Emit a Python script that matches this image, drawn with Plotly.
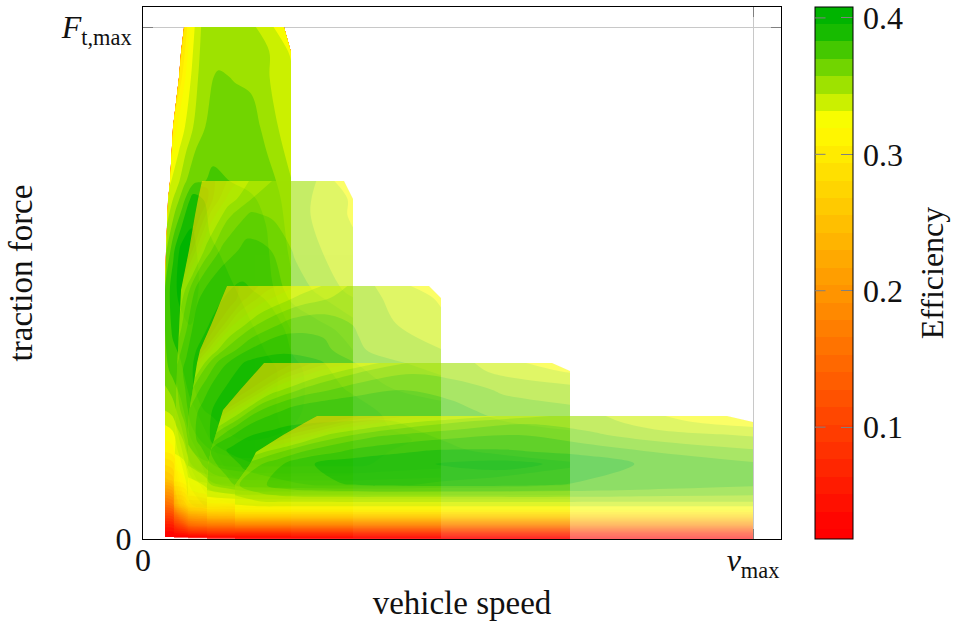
import plotly.graph_objects as go

# Speed and force are in normalised chart units (v_max = 610, F_t,max = 512)
V_MAX = 610
F_MAX = 512
AXIS_X_END = 638
AXIS_Y_END = 532

EFF_MIN = 0.018
EFF_MAX = 0.408
LEVEL_START = 0.0253
LEVEL_END = 0.4084
LEVEL_STEP = 0.01277
EFF_TICKS = [0.1, 0.2, 0.3, 0.4]
EFF_LABELS = ["0.1", "0.2", "0.3", "0.4"]

a_gear1 = [0, .06, .12, .2, .35, .5, .65, .8, 1]
a_other = [0, .05, .1, .2, .35, .5, .65, .8, 1]

# gear 1
g1_force = [2, 14, 34, 59, 89, 129, 169, 209, 249, 289, 339, 358, 412, 462, 487, 512]
g1_left = [22, 22, 22, 22, 22, 22, 22, 22, 22, 23, 25, 27, 30, 36, 38, 41]
g1_right = [148] * 15 + [141]
g1_eff = [
    [.02] * 9,
    [.06, .06, .12, .2, .24, .26, .26, .25, .24],
    [.15, .16, .27, .33, .35, .355, .36, .36, .35],
    [.25, .26, .31, .35, .37, .38, .385, .38, .37],
    [.31, .315, .34, .365, .38, .39, .395, .39, .38],
    [.345, .35, .365, .38, .39, .395, .39, .385, .38],
    [.365, .375, .38, .39, .395, .395, .39, .385, .38],
    [.37, .385, .39, .395, .39, .39, .385, .38, .37],
    [.37, .39, .40, .40, .39, .385, .38, .375, .36],
    [.355, .38, .40, .40, .385, .38, .378, .372, .355],
    [.335, .35, .365, .39, .378, .375, .372, .368, .35],
    [.33, .34, .355, .367, .372, .37, .368, .365, .345],
    [.31, .325, .335, .35, .365, .368, .368, .35, .338],
    [.295, .32, .335, .35, .36, .356, .352, .345, .335],
    [.29, .318, .335, .35, .35, .35, .35, .345, .33],
    [.29, .32, .335, .35, .35, .35, .35, .338, .325],
]

# gear 2
g2_force = [1, 14, 34, 59, 89, 129, 169, 209, 249, 289, 324, 340, 358]
g2_left = [31, 31, 31, 31, 32, 33, 34, 36, 38, 46, 52, 55, 59]
g2_right = [210] * 12 + [201]
g2_eff = [
    [.02] * 9,
    [.10, .10, .13, .15, .15, .15, .15, .15, .15],
    [.24, .24, .27, .28, .28, .28, .28, .28, .28],
    [.31, .315, .33, .34, .34, .34, .34, .34, .34],
    [.335, .34, .36, .37, .38, .38, .38, .375, .37],
    [.35, .365, .38, .385, .39, .39, .385, .38, .375],
    [.36, .375, .385, .385, .39, .39, .385, .38, .375],
    [.34, .36, .38, .385, .39, .39, .38, .375, .365],
    [.32, .345, .365, .38, .385, .38, .365, .355, .34],
    [.28, .31, .335, .36, .375, .37, .355, .345, .335],
    [.27, .285, .31, .34, .36, .355, .35, .34, .33],
    [.27, .275, .295, .325, .345, .35, .35, .34, .33],
    [.285, .285, .295, .31, .335, .345, .35, .345, .325],
]

# gear 3
g3_force = [0.5, 14, 29, 46, 74, 99, 126, 151, 176, 189, 214, 241, 253]
g3_left = [45, 45, 45, 45, 45, 45, 46, 50, 54, 57, 68, 79, 84]
g3_right = [298] * 12 + [286]
g3_eff = [
    [.02] * 9,
    [.15] * 9,
    [.26, .26, .27, .27, .27, .27, .27, .27, .27],
    [.315, .32, .33, .335, .335, .335, .335, .335, .335],
    [.345, .355, .37, .38, .385, .385, .385, .38, .375],
    [.36, .375, .385, .39, .395, .395, .39, .385, .38],
    [.36, .375, .385, .39, .395, .395, .39, .38, .375],
    [.345, .365, .38, .39, .395, .39, .38, .37, .365],
    [.31, .345, .365, .385, .39, .385, .37, .36, .35],
    [.28, .32, .345, .37, .38, .375, .36, .35, .345],
    [.27, .29, .32, .345, .365, .365, .355, .345, .335],
    [.27, .275, .29, .315, .335, .345, .35, .34, .33],
    [.28, .28, .285, .30, .32, .335, .35, .34, .325],
]

# gear 4
g4_force = [0, 6, 14, 22, 29, 36, 44, 54, 74, 89, 109, 129, 149, 168, 176]
g4_left = [64, 64, 64, 64, 64, 64, 64, 64, 65, 68, 74, 80, 97, 114, 121]
g4_right = [427] * 14 + [409]
g4_eff = [
    [.02] * 9,
    [.09] * 9,
    [.17] * 9,
    [.25] * 9,
    [.29] * 9,
    [.32] * 9,
    [.335, .34, .345, .345, .345, .345, .345, .345, .345],
    [.355, .365, .375, .38, .385, .385, .38, .378, .37],
    [.365, .375, .385, .39, .395, .395, .395, .39, .385],
    [.37, .385, .39, .39, .39, .39, .385, .38, .375],
    [.34, .365, .38, .385, .385, .385, .38, .375, .37],
    [.29, .325, .355, .375, .38, .38, .375, .365, .36],
    [.27, .29, .325, .35, .365, .37, .365, .355, .35],
    [.27, .275, .29, .32, .345, .355, .35, .34, .33],
    [.27, .27, .28, .30, .325, .345, .35, .34, .325],
]

# gear 5
g5_force = [0, 6, 14, 22, 29, 36, 44, 54, 75, 87, 104, 117, 123]
g5_left = [92, 92, 92, 92, 92, 92, 92, 92, 107, 113, 140, 163, 174]
g5_right = [610] * 12 + [584]
g5_eff = [
    [.02] * 9,
    [.08] * 9,
    [.19] * 9,
    [.27] * 9,
    [.32] * 9,
    [.335, .342, .342, .342, .342, .342, .342, .342, .342],
    [.345, .355, .36, .362, .362, .362, .362, .36, .358],
    [.355, .368, .377, .382, .385, .385, .382, .378, .372],
    [.35, .365, .38, .39, .395, .40, .392, .38, .372],
    [.325, .345, .36, .375, .385, .385, .38, .37, .36],
    [.29, .31, .335, .355, .365, .37, .36, .35, .343],
    [.27, .28, .30, .325, .345, .355, .35, .335, .325],
    [.27, .27, .28, .30, .32, .34, .35, .335, .322],
]

gears = [
    (a_gear1, g1_force, g1_left, g1_right, g1_eff, 1.0),
    (a_other, g2_force, g2_left, g2_right, g2_eff, 0.6),
    (a_other, g3_force, g3_left, g3_right, g3_eff, 0.6),
    (a_other, g4_force, g4_left, g4_right, g4_eff, 0.6),
    (a_other, g5_force, g5_left, g5_right, g5_eff, 0.6),
]

colorscale = [
    [0.0, "rgb(255,0,0)"],
    [0.8046, "rgb(255,255,0)"],
    [1.0, "rgb(0,180,0)"],
]

FONT = "Liberation Serif"
fig = go.Figure()

hidden = dict(showgrid=False, showline=False, showticklabels="none",
              startline=False, endline=False, minorgridcount=0, smoothing=0,
              linewidth=0)

for i, (a, force, left, right, eff, alpha) in enumerate(gears):
    cid = f"gear{i + 1}"
    xs = [[l + u * (r - l) for u in a] for l, r in zip(left, right)]
    ys = [[f] * len(a) for f in force]
    fig.add_trace(go.Carpet(carpet=cid, a=a, b=force, x=xs, y=ys,
                            aaxis=hidden, baxis=hidden))
    cb = dict(x=672 / 810, xanchor="left", y=0.5, yanchor="middle", len=1, ypad=0, xpad=0,
              thickness=38, outlinecolor="black", outlinewidth=1,
              tickmode="array", tickvals=EFF_TICKS,
              ticktext=["\u200a" + t + "\u2009\u200a" for t in EFF_LABELS],
              ticks="inside", ticklen=12, tickcolor="#808080", tickwidth=1,
              tickfont=dict(family=FONT, size=32, color="#111"),
              title=dict(text="Efficiency", side="right",
                         font=dict(family=FONT, size=32, color="#111")))
    fig.add_trace(go.Contourcarpet(
        carpet=cid, a=a, b=force, z=eff, opacity=alpha,
        autocontour=False, autocolorscale=False,
        contours=dict(start=LEVEL_START, end=LEVEL_END, size=LEVEL_STEP,
                      coloring="fill", showlines=False),
        line=dict(width=0),
        colorscale=colorscale, zauto=False, zmin=EFF_MIN, zmax=EFF_MAX,
        showscale=(i == 0), colorbar=cb,
    ))

tick_font = dict(family=FONT, size=32, color="#111")
title_font = dict(family=FONT, size=33, color="#111")

# tick marks on the colour bar's left edge
left_ticks = [dict(xref="paper", yref="paper", x=672 / 810,
                   y=(v - EFF_MIN) / (EFF_MAX - EFF_MIN), text="", showarrow=True,
                   arrowhead=0, arrowwidth=1, arrowcolor="#808080",
                   ax=12, ay=0, standoff=0)
              for v in EFF_TICKS]

fig.update_layout(
    width=954, height=626, margin=dict(l=143, r=1, t=7, b=87),
    paper_bgcolor="white", plot_bgcolor="white", showlegend=False,
    annotations=left_ticks,
    xaxis=dict(domain=[0, 638 / 810], range=[0, AXIS_X_END], tickmode="array",
               tickvals=[0, V_MAX], ticktext=["0", "<i>v</i><sub>max</sub>"],
               showgrid=True, gridcolor="#c8c8c8", gridwidth=1, zeroline=False,
               showline=True, linecolor="black", linewidth=1, mirror="ticks",
               ticks="inside", ticklen=10, tickcolor="#808080", tickfont=tick_font,
               ticklabelstandoff=-7,
               title=dict(text="vehicle speed", font=title_font, standoff=8)),
    yaxis=dict(range=[0, AXIS_Y_END], tickmode="array",
               tickvals=[0, F_MAX], ticktext=["0", "<i>F</i><sub>t,max</sub>"],
               showgrid=True, gridcolor="#c8c8c8", gridwidth=1, zeroline=False,
               showline=True, linecolor="black", linewidth=1, mirror="ticks",
               ticks="inside", ticklen=10, tickcolor="#808080", tickfont=tick_font,
               ticklabelstandoff=4,
               title=dict(text="traction force", font=title_font, standoff=18)),
)
fig.write_html("out.html", config={"displayModeBar": False},
               post_script="document.body.style.margin='0';window.dispatchEvent(new Event('resize'));")
